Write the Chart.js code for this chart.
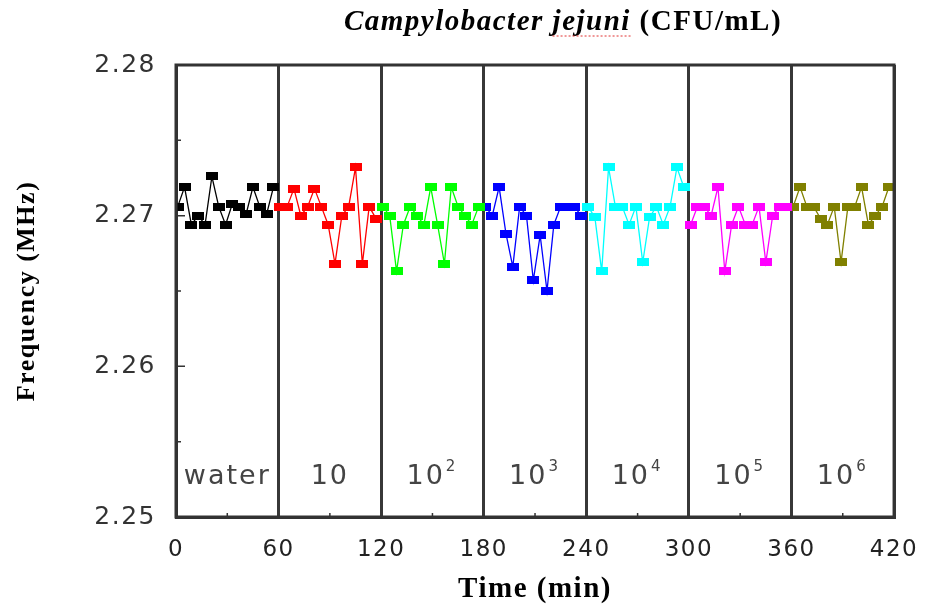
<!DOCTYPE html>
<html>
<head>
<meta charset="utf-8">
<script src="https://cdn.jsdelivr.net/npm/chart.js@4.4.1/dist/chart.umd.min.js"></script>
<style>
  html, body { margin: 0; padding: 0; background: #fff; }
  #wrap { width: 935px; height: 610px; }
</style>
</head>
<body>
<div id="wrap"><canvas id="freqChart" width="935" height="610"></canvas></div>
<script>
// Frequency readings (MHz), one block of samples per 60 min exposure
const segmentStarts = [0, 60, 120, 180, 240, 300, 360];
const sampleOffsets = [1, 5, 9, 13, 17, 21, 25, 29, 33, 37, 41, 45, 49, 53, 57];

const water = [2.2706, 2.2719, 2.2694, 2.2700, 2.2694, 2.2726, 2.2706, 2.2694, 2.2708, 2.2706, 2.2701, 2.2719, 2.2706, 2.2701, 2.2719];
const cfu1 = [2.2706, 2.2706, 2.2718, 2.2700, 2.2706, 2.2718, 2.2706, 2.2694, 2.2668, 2.2700, 2.2706, 2.2732, 2.2668, 2.2706, 2.2698];
const cfu2 = [2.2706, 2.2700, 2.2663, 2.2694, 2.2706, 2.2700, 2.2694, 2.2719, 2.2694, 2.2668, 2.2719, 2.2706, 2.2700, 2.2694, 2.2706];
const cfu3 = [2.2706, 2.2700, 2.2719, 2.2688, 2.2666, 2.2706, 2.2700, 2.2657, 2.2687, 2.2650, 2.2694, 2.2706, 2.2706, 2.2706, 2.2700];
const cfu4 = [2.2706, 2.2699, 2.2663, 2.2732, 2.2706, 2.2706, 2.2694, 2.2706, 2.2669, 2.2699, 2.2706, 2.2694, 2.2706, 2.2732, 2.2719];
const cfu5 = [2.2694, 2.2706, 2.2706, 2.2700, 2.2719, 2.2663, 2.2694, 2.2706, 2.2694, 2.2694, 2.2706, 2.2669, 2.2700, 2.2706, 2.2706];
const cfu6 = [2.2706, 2.2719, 2.2706, 2.2706, 2.2698, 2.2694, 2.2706, 2.2669, 2.2706, 2.2706, 2.2719, 2.2694, 2.2700, 2.2706, 2.2719];

const segmentLabels = ['water', '10', '10', '10', '10', '10', '10'];
const segmentExponents = ['', '', '2', '3', '4', '5', '6'];
const xTicks = [0, 60, 120, 180, 240, 300, 360, 420];
const yTicks = [2.25, 2.26, 2.27, 2.28];

const seriesValues = [water, cfu1, cfu2, cfu3, cfu4, cfu5, cfu6];
const seriesColors = ['#000000', '#ff0000', '#00ff00', '#0000ff', '#00ffff', '#ff00ff', '#808000'];

const SANS = '"DejaVu Sans", Verdana, sans-serif';
const SERIF = '"Liberation Serif", "Times New Roman", serif';

/**
 * Small flat rectangle used as the point marker
 */
function makeMarker(color) {
    const c = document.createElement('canvas');
    c.width = 12;
    c.height = 8;
    const g = c.getContext('2d');
    g.fillStyle = color;
    g.fillRect(0, 0, 12, 8);
    return c;
}

const datasets = seriesValues.map((values, i) => ({
    data: values.map((v, j) => ({ x: segmentStarts[i] + sampleOffsets[j], y: v })),
    borderColor: seriesColors[i],
    backgroundColor: seriesColors[i],
    borderWidth: 1.3,
    pointStyle: makeMarker(seriesColors[i]),
    tension: 0
}));

// the source figure has rather wide, loosely set text
const wideText = {
    id: 'wideText',
    beforeDraw(chart) { chart.ctx.letterSpacing = '1.5px'; },
    afterDraw(chart) { chart.ctx.letterSpacing = '0px'; }
};

// frame, inward ticks, segment labels and the mixed-style title
const decorations = {
    id: 'decorations',
    afterDatasetsDraw(chart) {
        const { ctx, chartArea: a, scales: { x, y } } = chart;
        ctx.save();

        ctx.strokeStyle = '#333';
        ctx.lineWidth = 3;
        ctx.strokeRect(a.left, a.top, a.right - a.left, a.bottom - a.top);

        ctx.lineWidth = 1.5;
        ctx.beginPath();
        for (let v = 2.255; v < 2.28; v += 0.005) {
            const py = y.getPixelForValue(v);
            const major = Math.abs(v * 100 - Math.round(v * 100)) < 1e-6;
            ctx.moveTo(a.left, py);
            ctx.lineTo(a.left + (major ? 9 : 5), py);
        }
        for (let t = 30; t < 420; t += 60) {
            const px = x.getPixelForValue(t);
            ctx.moveTo(px, a.bottom);
            ctx.lineTo(px, a.bottom - 4);
        }
        ctx.stroke();

        ctx.fillStyle = '#444';
        ctx.textBaseline = 'middle';
        ctx.textAlign = 'left';
        ctx.letterSpacing = '2px';
        const ly = a.bottom - 40;
        segmentStarts.forEach((s, i) => {
            const cx = x.getPixelForValue(s + 30);
            ctx.font = '27px ' + SANS;
            const baseW = ctx.measureText(segmentLabels[i]).width;
            ctx.font = '15px ' + SANS;
            const expW = segmentExponents[i] ? ctx.measureText(segmentExponents[i]).width + 2 : 0;
            const startX = cx - (baseW + expW) / 2;
            ctx.font = '27px ' + SANS;
            ctx.fillText(segmentLabels[i], startX, ly);
            if (segmentExponents[i]) {
                ctx.font = '15px ' + SANS;
                ctx.fillText(segmentExponents[i], startX + baseW + 1, ly - 10);
            }
        });

        const italicPart = 'Campylobacter jejuni';
        const plainPart = ' (CFU/mL)';
        ctx.letterSpacing = '1.5px';
        ctx.fillStyle = '#000';
        ctx.font = 'italic bold 29px ' + SERIF;
        const w1 = ctx.measureText(italicPart).width;
        const wj = ctx.measureText('jejuni').width;
        ctx.font = 'bold 29px ' + SERIF;
        const w2 = ctx.measureText(plainPart).width;
        const tx = 563 - (w1 + w2) / 2;
        const ty = 23;
        ctx.font = 'italic bold 29px ' + SERIF;
        ctx.fillText(italicPart, tx, ty);
        ctx.font = 'bold 29px ' + SERIF;
        ctx.fillText(plainPart, tx + w1, ty);

        ctx.strokeStyle = '#e03030';
        ctx.lineWidth = 1;
        ctx.setLineDash([2, 2]);
        ctx.beginPath();
        ctx.moveTo(tx + w1 - wj, ty + 13);
        ctx.lineTo(tx + w1, ty + 13);
        ctx.stroke();

        ctx.restore();
    }
};

new Chart(document.getElementById('freqChart'), {
    type: 'line',
    data: { datasets },
    options: {
        responsive: false,
        animation: false,
        layout: { padding: { top: 65, right: 40, left: 0, bottom: 0 } },
        plugins: {
            legend: { display: false },
            tooltip: { enabled: false }
        },
        scales: {
            x: {
                type: 'linear',
                min: 0,
                max: 420,
                afterFit(scale) { scale.height = 93; },
                afterBuildTicks(scale) { scale.ticks = xTicks.map(v => ({ value: v })); },
                ticks: {
                    autoSkip: false,
                    maxRotation: 0,
                    padding: 19,
                    color: '#222',
                    font: { family: SANS, size: 23 }
                },
                grid: {
                    color: '#383838',
                    lineWidth: 3,
                    drawTicks: false
                },
                border: { color: '#333', width: 3 },
                title: {
                    display: true,
                    text: 'Time (min)',
                    color: '#000',
                    padding: { top: 0, bottom: 3 },
                    font: { family: SERIF, size: 29, weight: 'bold' }
                }
            },
            y: {
                min: 2.25,
                max: 2.28,
                afterFit(scale) { scale.width = 176; },
                afterBuildTicks(scale) { scale.ticks = yTicks.map(v => ({ value: v })); },
                ticks: {
                    padding: 12,
                    color: '#333',
                    callback: v => v.toFixed(2),
                    font: { family: SANS, size: 25 }
                },
                grid: { display: false },
                border: { color: '#333', width: 3 },
                title: {
                    display: true,
                    text: 'Frequency (MHz)',
                    color: '#000',
                    padding: { top: 12, bottom: 0 },
                    font: { family: SERIF, size: 26, weight: 'bold' }
                }
            }
        }
    },
    plugins: [wideText, decorations]
});
</script>
</body>
</html>
